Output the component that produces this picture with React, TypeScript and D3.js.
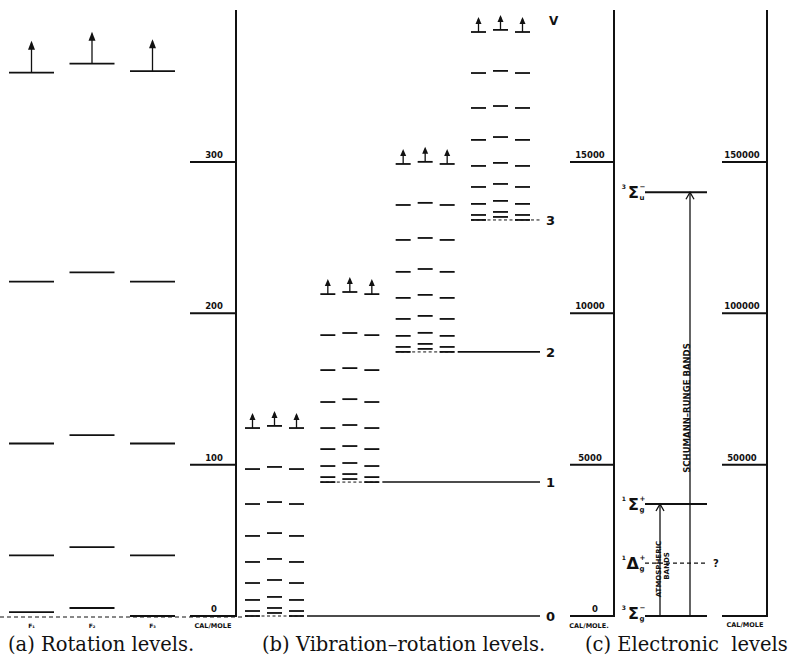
import React from "react";
import * as d3 from "d3";

// (a) rotation levels in cal/mole for the three fine-structure columns; top level has an arrow
const rotF1 = [2.6, 40, 114, 221, 359];
const rotF2 = [5.3, 45.5, 119.5, 227, 365];
const rotF3 = [0, 40, 114, 221, 360];
const rotNames = ["F₁", "F₂", "F₃"];
const calTicks = [0, 100, 200, 300];

// (b) vibration levels v = 0..3 and the rotational ladder drawn on top of each
const vibLabels = ["0", "1", "2", "3"];
const vibBase = [0, 88.5, 174.5, 261.7];
const ladderF1 = [0, 3.3, 10.6, 21.8, 35.7, 52.9, 74, 97.1, 124.2];
const ladderF2 = [2, 5.3, 12.6, 23.8, 37.7, 54.8, 75.3, 98.5, 125.6];
const ladderF3 = [0, 3.3, 10.6, 21.8, 35.7, 52.9, 74, 97.1, 124.2];

// (c) electronic states, cal/mole (right scale)
const elecPre = ["3", "1", "1", "3"];
const elecSym = ["Σ", "Δ", "Σ", "Σ"];
const elecSub = ["g", "g", "g", "u"];
const elecSup = ["−", "+", "+", "−"];
const elecEnergy = [0, 17500, 37000, 140000];
const leftTicks = [0, 5000, 10000, 15000];
const rightTicks = [0, 50000, 100000, 150000];

const ink = "#111";
const sans = "DejaVu Sans, sans-serif";

const UpArrow = ({ x, y, stem, head, w }) => (
  <g>
    <line x1={x} x2={x} y1={y} y2={y - stem + 2} stroke={ink} strokeWidth={1.3} />
    <path
      d={`M${x},${y - stem} L${x - w / 2},${y - stem + head} L${x + w / 2},${y - stem + head} Z`}
      fill={ink}
    />
  </g>
);

export default function App() {
  const yA = d3.scaleLinear().domain([0, 300]).range([616, 162]);
  const yL = d3.scaleLinear().domain([0, 15000]).range([616, 162]);
  const yR = d3.scaleLinear().domain([0, 150000]).range([616, 162]);
  const xRot = d3.scaleLinear().domain([0, 2]).range([9, 130]);
  const xGroup = d3.scaleLinear().domain([0, 3]).range([245, 471]);
  const xCol = d3.scaleLinear().domain([0, 2]).range([0, 44]);

  const rot = [rotF1, rotF2, rotF3];
  const ladders = [ladderF1, ladderF2, ladderF3];
  const rotW = 45;
  const vibW = 15;

  return (
    <svg
      width={789}
      height={662}
      style={{ position: "absolute", left: 0, top: 0, background: "#fff" }}
    >
      {/* ---------- (a) rotation levels ---------- */}
      <line x1={0} x2={245} y1={617} y2={617} stroke={ink} strokeWidth={1} strokeDasharray="4,3" />
      {rot.map((col, i) =>
        col.map((v, j) => {
          const x0 = xRot(i);
          const y = yA(v);
          return (
            <g key={`r${i}-${j}`}>
              <line x1={x0} x2={x0 + rotW} y1={y} y2={y} stroke={ink} strokeWidth={1.8} />
              {j === col.length - 1 && (
                <UpArrow x={x0 + rotW / 2} y={y} stem={32} head={9} w={7} />
              )}
            </g>
          );
        })
      )}
      {rotNames.map((n, i) => (
        <text
          key={n}
          x={xRot(i) + rotW / 2}
          y={628}
          fontFamily={sans}
          fontWeight="bold"
          fontSize={6}
          textAnchor="middle"
          fill={ink}
        >
          {n}
        </text>
      ))}
      {/* cal/mole axis */}
      <line x1={236} x2={236} y1={10} y2={617} stroke={ink} strokeWidth={2} />
      {calTicks.map((t) => (
        <g key={`ct${t}`}>
          <line x1={190} x2={236} y1={yA(t)} y2={yA(t)} stroke={ink} strokeWidth={2} />
          <text
            x={214}
            y={yA(t) - 4}
            fontFamily={sans}
            fontWeight="bold"
            fontSize={8.5}
            textAnchor="middle"
            fill={ink}
          >
            {t}
          </text>
        </g>
      ))}
      <text x={213} y={628} fontFamily={sans} fontWeight="bold" fontSize={6.5} textAnchor="middle" fill={ink}>
        CAL/MOLE
      </text>

      {/* ---------- (b) vibration-rotation levels ---------- */}
      {vibBase.map((b, g) => {
        const gx = xGroup(g);
        const yb = yA(b);
        return (
          <g key={`g${g}`}>
            <line x1={gx} x2={gx + 60} y1={yb} y2={yb} stroke={ink} strokeWidth={1} strokeDasharray="3,2.5" />
            {g < 3 ? (
              <line x1={gx + 62} x2={540} y1={yb} y2={yb} stroke={ink} strokeWidth={1.6} />
            ) : (
              <line x1={gx + 60} x2={542} y1={yb} y2={yb} stroke={ink} strokeWidth={1} strokeDasharray="3,2.5" />
            )}
            <text
              x={546}
              y={yb + 5}
              fontFamily={sans}
              fontWeight="bold"
              fontSize={13}
              fill={ink}
            >
              {vibLabels[g]}
            </text>
            {ladders.map((lad, c) =>
              lad.map((o, j) => {
                const x0 = gx + xCol(c);
                const y = yA(b + o);
                return (
                  <g key={`l${g}-${c}-${j}`}>
                    <line x1={x0} x2={x0 + vibW} y1={y} y2={y} stroke={ink} strokeWidth={1.8} />
                    {j === lad.length - 1 && (
                      <UpArrow x={x0 + vibW / 2} y={y} stem={15} head={7} w={6} />
                    )}
                  </g>
                );
              })
            )}
          </g>
        );
      })}
      <text x={549} y={25} fontFamily={sans} fontWeight="bold" fontSize={12} fill={ink}>
        V
      </text>

      {/* ---------- (c) electronic levels ---------- */}
      <line x1={614} x2={614} y1={10} y2={617} stroke={ink} strokeWidth={2} />
      <line x1={767} x2={767} y1={10} y2={617} stroke={ink} strokeWidth={2} />
      {leftTicks.map((t) => (
        <g key={`lt${t}`}>
          <line x1={570} x2={614} y1={yL(t)} y2={yL(t)} stroke={ink} strokeWidth={2} />
          <text
            x={t === 0 ? 595 : 590}
            y={yL(t) - 4}
            fontFamily={sans}
            fontWeight="bold"
            fontSize={8.5}
            textAnchor="middle"
            fill={ink}
          >
            {t}
          </text>
        </g>
      ))}
      <text x={589} y={628} fontFamily={sans} fontWeight="bold" fontSize={6.5} textAnchor="middle" fill={ink}>
        CAL/MOLE.
      </text>
      {rightTicks.map((t) => (
        <g key={`rt${t}`}>
          <line x1={722} x2={767} y1={yR(t)} y2={yR(t)} stroke={ink} strokeWidth={2} />
          {t > 0 && (
            <text
              x={742}
              y={yR(t) - 4}
              fontFamily={sans}
              fontWeight="bold"
              fontSize={8.5}
              textAnchor="middle"
              fill={ink}
            >
              {t}
            </text>
          )}
        </g>
      ))}
      <text x={745} y={627} fontFamily={sans} fontWeight="bold" fontSize={6.5} textAnchor="middle" fill={ink}>
        CAL/MOLE
      </text>

      {elecEnergy.map((e, i) => {
        const y = yR(e);
        const base = Math.min(y + 6, 619);
        return (
          <g key={`e${i}`}>
            <line
              x1={645}
              x2={707}
              y1={y}
              y2={y}
              stroke={ink}
              strokeWidth={i === 1 ? 1.2 : 1.8}
              strokeDasharray={i === 1 ? "4,3" : undefined}
            />
            <text x={626} y={base - 9} fontFamily={sans} fontWeight="bold" fontSize={6} textAnchor="end" fill={ink}>
              {elecPre[i]}
            </text>
            <text x={639} y={base} fontFamily={sans} fontWeight="bold" fontSize={16} textAnchor="end" fill={ink}>
              {elecSym[i]}
            </text>
            <text x={639.5} y={base - 9} fontFamily={sans} fontWeight="bold" fontSize={7} fill={ink}>
              {elecSup[i]}
            </text>
            <text x={639.5} y={base + 2} fontFamily={sans} fontWeight="bold" fontSize={7} fill={ink}>
              {elecSub[i]}
            </text>
          </g>
        );
      })}
      <text x={713} y={yR(elecEnergy[1]) + 4} fontFamily={sans} fontWeight="bold" fontSize={10} fill={ink}>
        ?
      </text>

      {/* transitions */}
      {[
        { x: 660, to: elecEnergy[2] },
        { x: 690, to: elecEnergy[3] },
      ].map((a) => {
        const y1 = yR(0);
        const y2 = yR(a.to);
        return (
          <g key={`a${a.x}`}>
            <line x1={a.x} x2={a.x} y1={y1} y2={y2} stroke={ink} strokeWidth={1.3} />
            <path
              d={`M${a.x - 4},${y2 + 7} L${a.x},${y2} L${a.x + 4},${y2 + 7}`}
              fill="none"
              stroke={ink}
              strokeWidth={1.3}
            />
          </g>
        );
      })}
      <text
        transform={`translate(661,569) rotate(-90)`}
        fontFamily={sans}
        fontWeight="bold"
        fontSize={7}
        textAnchor="middle"
        fill={ink}
      >
        ATMOSPHERIC
      </text>
      <text
        transform={`translate(669,566) rotate(-90)`}
        fontFamily={sans}
        fontWeight="bold"
        fontSize={7}
        textAnchor="middle"
        fill={ink}
      >
        BANDS
      </text>
      <text
        transform={`translate(690,408) rotate(-90)`}
        fontFamily={sans}
        fontWeight="bold"
        fontSize={8.5}
        textAnchor="middle"
        fill={ink}
      >
        SCHUMANN–RUNGE BANDS
      </text>

      {/* captions */}
      {[
        { x: 8, t: "(a) Rotation levels." },
        { x: 262, t: "(b) Vibration–rotation levels." },
        { x: 585, t: "(c) Electronic  levels" },
      ].map((c) => (
        <text
          key={c.t}
          x={c.x}
          y={651}
          fontFamily="DejaVu Serif, serif"
          fontSize={19.5}
          fill={ink}
          style={{ whiteSpace: "pre" }}
        >
          {c.t}
        </text>
      ))}
    </svg>
  );
}
